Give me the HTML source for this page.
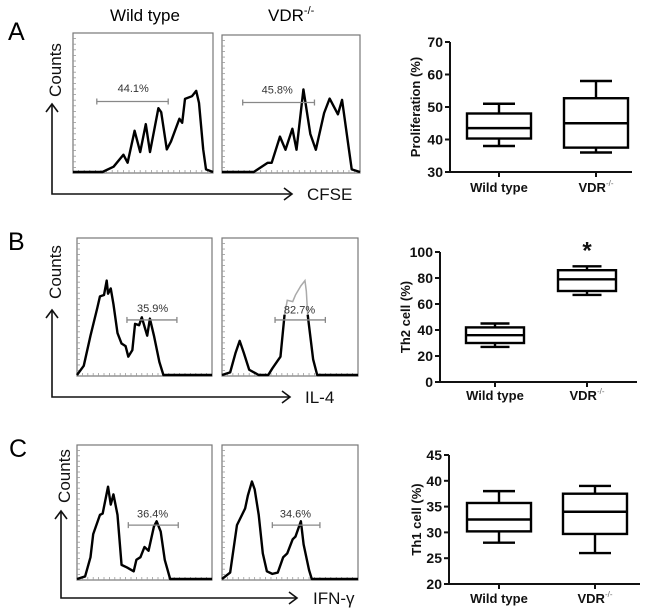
<!DOCTYPE html>
<html><head><meta charset="utf-8"><style>
html,body{margin:0;padding:0;background:#fff;}
svg{display:block;font-family:"Liberation Sans",sans-serif;}
</style></head><body>
<svg id="fig" width="650" height="613" viewBox="0 0 650 613"></svg>
<script>
// ---------- histogram data (channel 0-100, count 0-100) ----------
const histA_wt = [[0,0],[21,0],[29,4],[36,13],[39,7],[44,31],[48,15],[52,36],[55,15],[61,48],[63,45],[67,17],[70,23],[76,40],[78,37],[80,55],[85,57],[88,61],[90,52],[93,17],[95,2],[100,0]];
const histA_vdr = [[0,0],[23,0],[33,7],[36,7],[42,27],[46,17],[51,33],[54,17],[59,63],[64,29],[68,17],[74,45],[78,56],[84,44],[87,55],[92,17],[94,2],[100,0]];
const histB_wt = [[0,0],[5,7],[10,30],[15,51],[17,60],[20,61],[22,72],[23,62],[25,66],[27,54],[30,32],[33,24],[36,22],[38,14],[41,19],[43,39],[46,38],[48,44],[50,37],[52,30],[54,43],[57,30],[61,10],[64,0],[100,0]];
const histB_vdr_left = [[0,0],[6,2],[10,17],[13,26],[16,17],[20,4],[27,0],[34,0],[37,5],[41,11],[43,14],[46,46]];
const histB_vdr_right = [[63,46],[67,12],[70,0],[100,0]];
const histB_vdr_gray = [[46,46],[48,57],[52,56],[54,61],[58,68],[61,72],[62,64],[63,46]];
const histC_wt = [[0,0],[6,2],[10,17],[12,35],[17,50],[19,51],[23,72],[25,58],[27,66],[30,50],[33,11],[37,9],[42,6],[44,15],[47,17],[50,25],[53,22],[57,41],[59,45],[62,37],[65,15],[69,0],[100,0]];
const histC_vdr = [[0,0],[6,5],[11,42],[17,55],[19,65],[22,76],[24,70],[27,50],[30,20],[33,6],[37,4],[41,5],[45,17],[48,20],[52,31],[54,33],[58,45],[60,27],[64,7],[66,0],[100,0]];
const gates = [[17,68,53],[15,67,53],[37,74,42],[39,76,42],[38,75,42],[37,72,42]];
const gateLabels = ["44.1%","45.8%","35.9%","82.7%","36.4%","34.6%"];
const gateLabelPos = [[43,63],[40,63],[56,51],[57,50],[56,51],[54,51]];

// ---------- box plot data ----------
const groups = ["Wild type","VDR"];
const boxA_min=[38,36], boxA_q1=[40.3,37.5], boxA_med=[43.5,45], boxA_q3=[48,52.7], boxA_max=[51,58];
const boxB_min=[27,67], boxB_q1=[30,70], boxB_med=[36,79], boxB_q3=[42,86], boxB_max=[45,89];
const boxC_min=[28,26], boxC_q1=[30.2,29.7], boxC_med=[32.5,34], boxC_q3=[35.7,37.5], boxC_max=[38,39];
const ticksA=[30,40,50,60,70], ticksB=[0,20,40,60,80,100], ticksC=[20,25,30,35,40,45];

const NS="http://www.w3.org/2000/svg";
const svg=document.getElementById('fig');
function mk(tag,attrs,parent){const e=document.createElementNS(NS,tag);for(const k in attrs)e.setAttribute(k,attrs[k]);(parent||svg).appendChild(e);return e;}
function txt(s,x,y,attrs,parent){const e=mk('text',Object.assign({x:x,y:y},attrs),parent);e.textContent=s;return e;}

// ---------- histogram panels ----------
const hpanels=[
 {x0:73,y0:33,w:140,h:140,data:[histA_wt],g:0,name:'hist-a-wildtype'},
 {x0:222,y0:35,w:138,h:138,data:[histA_vdr],g:1,name:'hist-a-vdr'},
 {x0:77,y0:238,w:135,h:138,data:[histB_wt],g:2,name:'hist-b-wildtype'},
 {x0:222,y0:238,w:136,h:138,data:[histB_vdr_left,histB_vdr_right],g:3,name:'hist-b-vdr',gray:histB_vdr_gray},
 {x0:77,y0:445,w:135,h:135,data:[histC_wt],g:4,name:'hist-c-wildtype'},
 {x0:222,y0:445,w:136,h:135,data:[histC_vdr],g:5,name:'hist-c-vdr'}
];
hpanels.forEach(p=>{
  const g=mk('g',{});
  
  
  const sx=v=>p.x0+v/100*p.w, sy=v=>p.y0+p.h-1-v/100*(p.h*0.95);
  const fr=mk('rect',{x:p.x0,y:p.y0,width:p.w,height:p.h,fill:'none',stroke:'#777','stroke-width':1.2},g);
  
  
  for(let i=1;i<25;i++){
    mk('line',{x1:p.x0,x2:p.x0+3,y1:p.y0+i*p.h/25,y2:p.y0+i*p.h/25,stroke:'#999','stroke-width':0.8},g);
    mk('line',{x1:p.x0+i*p.w/25,x2:p.x0+i*p.w/25,y1:p.y0+p.h,y2:p.y0+p.h-3,stroke:'#999','stroke-width':0.8},g);
  }
  if(p.gray){
    const gp=mk('polyline',{points:p.gray.map(d=>sx(d[0])+','+sy(d[1])).join(' '),fill:'none',stroke:'#aaa','stroke-width':1.5},g);
    
    
  }
  p.data.forEach(seg=>{
    const c=mk('polyline',{points:seg.map(d=>sx(d[0])+','+sy(d[1])).join(' '),fill:'none',stroke:'#000','stroke-width':2.4,'stroke-linejoin':'round'},g);
    
    
  });
  const gt=gates[p.g], gy=sy(gt[2]);
  const gl=mk('g',{stroke:'#888','stroke-width':1.3},g);
  
  
  mk('line',{x1:sx(gt[0]),x2:sx(gt[1]),y1:gy,y2:gy},gl);
  mk('line',{x1:sx(gt[0]),x2:sx(gt[0]),y1:gy-3,y2:gy+3},gl);
  mk('line',{x1:sx(gt[1]),x2:sx(gt[1]),y1:gy-3,y2:gy+3},gl);
  const lp=gateLabelPos[p.g];
  const t=txt(gateLabels[p.g],sx(lp[0]),sy(lp[1])+4,{'font-size':11,fill:'#333','text-anchor':'middle'},g);
  
  
});

// ---------- axes arrows and labels ----------
const arrows=[
 {x:52,yt:104,yb:194,xr:292,lab:'CFSE',lx:307,cy:70,L:'A',Lx:8,Ly:40,name:'a'},
 {x:52,yt:310,yb:397,xr:290,lab:'IL-4',lx:305,cy:272,L:'B',Lx:8,Ly:250,name:'b'},
 {x:61,yt:511,yb:598,xr:297,lab:'IFN-γ',lx:313,cy:476,L:'C',Lx:9,Ly:457,name:'c'}
];
arrows.forEach(a=>{
  const g=mk('g',{stroke:'#111','stroke-width':1.6,fill:'none'});
  
  
  mk('polyline',{points:`${a.x},${a.yt} ${a.x},${a.yb} ${a.xr},${a.yb}`},g);
  mk('polyline',{points:`${a.x-6},${a.yt+8} ${a.x},${a.yt} ${a.x+6},${a.yt+8}`},g);
  mk('polyline',{points:`${a.xr-8},${a.yb-6} ${a.xr},${a.yb} ${a.xr-8},${a.yb+6}`},g);
  const xl=txt(a.lab,a.lx,a.yb+6,{'font-size':17,fill:'#111'});
  
  
  const yl=txt('Counts',0,0,{'font-size':17,fill:'#111','text-anchor':'middle',transform:`translate(${a.x+9},${a.cy}) rotate(-90)`});
  
  
  const L=txt(a.L,a.Lx,a.Ly,{'font-size':25,fill:'#000'});
  
  
});
const h1=txt('Wild type',145,21,{'font-size':17,fill:'#000','text-anchor':'middle'});


const h2=mk('text',{x:268,y:21,'font-size':17,fill:'#000'});
h2.innerHTML='VDR<tspan dy="-7" font-size="11">-/-</tspan>';



// ---------- box plots ----------
const bplots=[
 {ax:450,top:42,bot:172,xr:632,lo:30,hi:70,ticks:ticksA,cx:[499,596],hw:32,mn:boxA_min,q1:boxA_q1,md:boxA_med,q3:boxA_q3,mx:boxA_max,yl:'Proliferation (%)',ylx:420,xly:192,name:'a'},
 {ax:440,top:252,bot:382,xr:637,lo:0,hi:100,ticks:ticksB,cx:[495,587],hw:29,mn:boxB_min,q1:boxB_q1,md:boxB_med,q3:boxB_q3,mx:boxB_max,yl:'Th2 cell (%)',ylx:410,xly:400,name:'b',star:true},
 {ax:449,top:455,bot:584,xr:640,lo:20,hi:45,ticks:ticksC,cx:[499,595],hw:32,mn:boxC_min,q1:boxC_q1,md:boxC_med,q3:boxC_q3,mx:boxC_max,yl:'Th1 cell (%)',ylx:421,xly:603,name:'c'}
];
bplots.forEach(b=>{
  const y=v=>b.bot-(v-b.lo)/(b.hi-b.lo)*(b.bot-b.top);
  const g=mk('g',{});
  
  
  const ax=mk('polyline',{points:`${b.ax},${b.top} ${b.ax},${b.bot} ${b.xr},${b.bot}`,fill:'none',stroke:'#111','stroke-width':2},g);
  
  
  b.ticks.forEach(t=>{
    mk('line',{x1:b.ax-5,x2:b.ax,y1:y(t),y2:y(t),stroke:'#111','stroke-width':2},g);
    const tl=txt(String(t),b.ax-7,y(t)+5,{'font-size':14,'font-weight':'bold',fill:'#111','text-anchor':'end'},g);
    
    
  });
  const yt=txt(b.yl,0,0,{'font-size':13,'font-weight':'bold',fill:'#111','text-anchor':'middle',transform:`translate(${b.ylx},${(b.top+b.bot)/2}) rotate(-90)`},g);
  
  
  groups.forEach((gn,i)=>{
    const cx=b.cx[i];
    mk('line',{x1:cx,x2:cx,y1:b.bot,y2:b.bot+5,stroke:'#111','stroke-width':2},g);
    const bx=mk('g',{stroke:'#000','stroke-width':2.4,fill:'none'},g);
    
    
    mk('rect',{x:cx-b.hw,y:y(b.q3[i]),width:2*b.hw,height:y(b.q1[i])-y(b.q3[i])},bx);
    mk('line',{x1:cx-b.hw,x2:cx+b.hw,y1:y(b.md[i]),y2:y(b.md[i])},bx);
    mk('line',{x1:cx,x2:cx,y1:y(b.q3[i]),y2:y(b.mx[i])},bx);
    mk('line',{x1:cx,x2:cx,y1:y(b.q1[i]),y2:y(b.mn[i])},bx);
    mk('line',{x1:cx-b.hw/2,x2:cx+b.hw/2,y1:y(b.mx[i]),y2:y(b.mx[i])},bx);
    mk('line',{x1:cx-b.hw/2,x2:cx+b.hw/2,y1:y(b.mn[i]),y2:y(b.mn[i])},bx);
    const xl=mk('text',{x:cx,y:b.xly,'font-size':13,'font-weight':'bold',fill:'#111','text-anchor':'middle'},g);
    xl.innerHTML= i? 'VDR<tspan dy="-6" font-size="8" font-weight="normal" fill="#666">-/-</tspan>' : gn;
    
    
  });
  if(b.star){
    const s=txt('*',b.cx[1],y(b.mx[1])-8,{'font-size':24,'font-weight':'bold',fill:'#111','text-anchor':'middle'},g);
    
    
  }
});
</script>
</body></html>
